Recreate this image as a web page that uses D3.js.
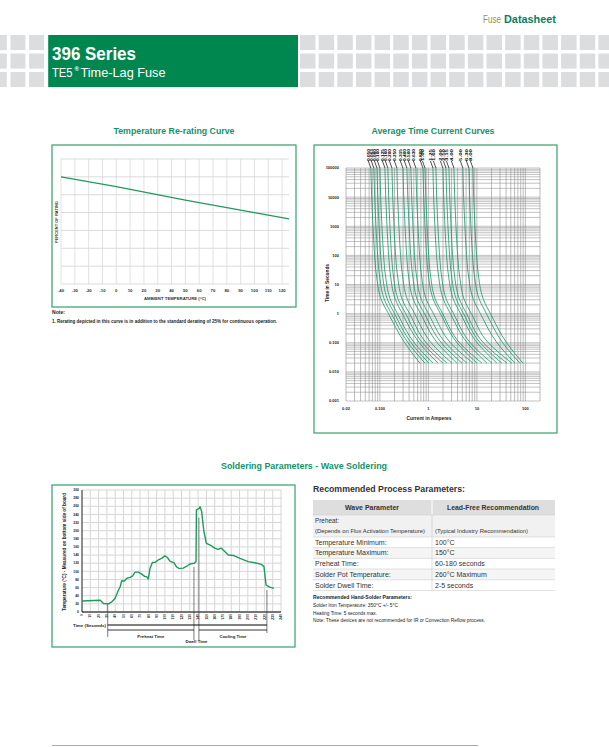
<!DOCTYPE html>
<html lang="en">
<head>
<meta charset="utf-8">
<title>396 Series TE5 Time-Lag Fuse</title>
<script src="https://cdn.jsdelivr.net/npm/d3@7"></script>
<style>
  body { margin: 0; background: #fff; }
  svg { display: block; font-family: "Liberation Sans", Arial, sans-serif; }
</style>
</head>
<body>
<svg id="page" width="609" height="747"></svg>
<script>

// ---- Temperature re-rating curve ----
var rerateTemp = [-40, 0, 50, 100, 125];
var reratePct  = [120, 109, 94, 80, 73];
var rerateTicks = [-40, -30, -20, -10, 0, 10, 20, 30, 40, 50, 60, 70, 80, 90, 100, 110, 120];
var rerateGrid  = [0, 20, 40, 60, 80, 100, 120, 140];

// ---- Average time current curves ----
var tccRatings = ["0.050", "0.063", "0.080", "0.100", "0.125", "0.160", "0.200", "0.250",
                  "0.315", "0.400", "0.500", "0.630", "0.800", "1.00", "1.25", "1.60",
                  "2.00", "2.50", "3.15", "4.00", "5.00", "6.30", "8.00"];
var tccTimes = [100000, 1000, 10, 3, 1, 0.1, 0.02];
var tccCurrents = [
  [0.065, 0.072, 0.090, 0.107, 0.150, 0.325, 0.668],
  [0.075, 0.083, 0.104, 0.124, 0.173, 0.38, 0.847],
  [0.087, 0.096, 0.120, 0.144, 0.20, 0.44, 1.02],
  [0.100, 0.110, 0.138, 0.165, 0.23, 0.51, 1.24],
  [0.127, 0.140, 0.175, 0.21, 0.29, 0.65, 1.57],
  [0.146, 0.161, 0.20, 0.24, 0.34, 0.75, 1.99],
  [0.177, 0.195, 0.244, 0.29, 0.41, 0.90, 2.41],
  [0.224, 0.246, 0.31, 0.37, 0.52, 1.14, 3.05],
  [0.298, 0.33, 0.41, 0.49, 0.69, 1.52, 3.87],
  [0.36, 0.40, 0.50, 0.59, 0.83, 1.85, 4.91],
  [0.435, 0.48, 0.60, 0.72, 1.00, 2.25, 6.22],
  [0.552, 0.61, 0.76, 0.91, 1.27, 2.85, 8.28],
  [0.77, 0.85, 1.06, 1.27, 1.77, 3.9, 10.0],
  [0.85, 0.94, 1.17, 1.40, 1.96, 4.4, 12.7],
  [1.24, 1.36, 1.71, 2.05, 2.85, 6.3, 16.1],
  [1.43, 1.57, 1.97, 2.36, 3.3, 7.3, 20.4],
  [1.99, 2.19, 2.75, 3.3, 4.6, 10.1, 25.8],
  [2.3, 2.53, 3.17, 3.8, 5.3, 11.7, 32.7],
  [2.65, 2.92, 3.66, 4.4, 6.1, 13.6, 41.6],
  [3.36, 3.7, 4.64, 5.5, 7.7, 17.2, 52.7],
  [5.14, 5.65, 7.1, 8.5, 11.8, 26, 60.8],
  [6.84, 7.5, 9.4, 11.3, 15.7, 34, 77],
  [8.28, 9.1, 11.4, 13.7, 19.0, 41, 88.8]
];
var tccYTicks  = [100000, 10000, 1000, 100, 10, 1, 0.1, 0.01, 0.001];
var tccYLabels = ["100000", "10000", "1000", "100", "10", "1", "0.100", "0.010", "0.001"];
var tccXTicks  = [0.02, 0.1, 1, 10, 100];
var tccXLabels = ["0.02", "0.100", "1", "10", "100"];

// ---- Wave soldering profile ----
var solderTime = [0, 22, 26, 32, 36, 40, 44, 46, 48, 51, 54, 58, 61, 64, 68, 72, 76, 78, 80, 82,
                  85, 88, 92, 96, 100, 103, 106, 111, 114, 117, 122, 126, 130, 135.5, 137.5, 138,
                  141.5, 142.3, 144.3, 147, 150, 156, 160, 164, 168, 172.5, 176.5, 182.5, 190.5,
                  200.5, 208.5, 216.5, 219.5, 222, 226.5, 231.5];
var solderTemp = [27, 29, 21, 20, 25, 34, 54, 62, 77, 76, 83, 85, 89, 98, 98, 93, 87, 87, 81, 107,
                  122, 122, 128, 132, 138, 134, 125, 121, 111, 107, 108, 112, 118, 120, 124, 251,
                  255, 259, 247, 198, 169, 163, 157, 154, 157, 148, 140, 139, 132,
                  124, 121, 117, 111, 66, 61, 58];
var solderXTicks = [0, 10, 20, 30, 40, 50, 60, 70, 80, 90, 100, 110, 120, 130, 140, 150, 160,
                    170, 180, 190, 200, 210, 220, 230, 240];
var solderYTicks = [0, 20, 40, 60, 80, 100, 120, 140, 160, 180, 200, 220, 240, 260, 280, 300];
var markTimes    = [31, 135, 141, 223];
var markTopTemps = [20, 111, 232, 54];

// ---- Process table ----
var tableHead = ["Wave Parameter", "Lead-Free Recommendation"];
var tableParams = ["Temperature Minimum:", "Temperature Maximum:", "Preheat Time:",
                   "Solder Pot Temperature:", "Solder Dwell Time:"];
var tableValues = ["100°C", "150°C", "60-180 seconds", "260°C Maximum", "2-5 seconds"];
var handNotes = ["Recommended Hand-Solder Parameters:",
                 "Solder Iron Temperature: 350°C +/- 5°C",
                 "Heating Time: 5 seconds max.",
                 "Note: These devices are not recommended for IR or Convection Reflow process."];
var handNoteWidths = [99, 85, 64, 172];


var svg = d3.select("#page");
var GREEN = "#00874f", FRAME = "#34a06c", TITLE = "#13936a", LINE = "#1f9a5e";

// small helper for text
function label(g, x, y, txt, size, opts) {
  opts = opts || {};
  var t = g.append("text")
    .attr("x", x).attr("y", y)
    .attr("font-size", size)
    .attr("font-weight", opts.weight || "bold")
    .attr("fill", opts.fill || "#222")
    .attr("text-anchor", opts.anchor || "start")
    .text(txt);
  if (opts.len) t.attr("textLength", opts.len).attr("lengthAdjust", "spacingAndGlyphs");
  if (opts.rotate) t.attr("transform", "rotate(-90," + x + "," + y + ")");
  return t;
}

//---------------- header ----------------
var head = svg.append("g");
[35, 53.5, 72].forEach(function(y) {
  for (var x = 29.1; x > -20; x -= 18.65)
    head.append("rect").attr("x", x).attr("y", y).attr("width", 15).attr("height", 15.1).attr("fill", "#dcdddf");
  for (var x2 = 300; x2 < 609; x2 += 18.65)
    head.append("rect").attr("x", x2).attr("y", y).attr("width", 15.5).attr("height", 15.1).attr("fill", "#dcdddf");
});
head.append("rect").attr("x", 48.2).attr("y", 35).attr("width", 249.8).attr("height", 52.1).attr("fill", GREEN);
label(head, 52, 60, "396 Series", 18.5, {fill: "#fff", len: 84});
label(head, 52, 76.5, "TE5", 13, {fill: "#fff", weight: "normal", len: 20.5});
label(head, 74.5, 70.5, "®", 6, {fill: "#fff", len: 4.5});
label(head, 80.5, 76.5, "Time-Lag Fuse", 13, {fill: "#fff", weight: "normal", len: 85});

label(head, 483, 22.5, "Fuse", 10.5, {fill: "#a0903a", weight: "normal", len: 18});
label(head, 504, 22.5, "Datasheet", 10.5, {fill: "#0a7f5a", len: 52});

//---------------- temperature re-rating ----------------
var gT = svg.append("g");
label(gT, 174, 134, "Temperature Re-rating Curve", 8.5, {fill: TITLE, anchor: "middle", len: 121});
gT.append("rect").attr("x", 52).attr("y", 145).attr("width", 244).attr("height", 162)
  .attr("fill", "none").attr("stroke", FRAME).attr("stroke-width", 1.2);

var tx = d3.scaleLinear().domain([-40, 125]).range([61, 289]);
var ty = d3.scaleLinear().domain([0, 140]).range([284, 159]);

gT.selectAll(".tv").data(rerateTicks).enter().append("line")
  .attr("x1", d => tx(d)).attr("x2", d => tx(d)).attr("y1", ty(140)).attr("y2", ty(0))
  .attr("stroke", "#dadada").attr("stroke-width", 0.8);
gT.selectAll(".th").data(rerateGrid).enter().append("line")
  .attr("x1", tx(-40)).attr("x2", tx(125)).attr("y1", d => ty(d)).attr("y2", d => ty(d))
  .attr("stroke", "#d2d2d2").attr("stroke-width", 0.8);
gT.selectAll(".tl").data(rerateTicks).enter().append("text")
  .attr("x", d => tx(d)).attr("y", 292).attr("text-anchor", "middle")
  .attr("font-size", 4.3).attr("font-weight", "bold").attr("fill", "#333")
  .text(d => d);
label(gT, 175, 300, "AMBIENT TEMPERATURE (°C)", 4.3, {anchor: "middle", fill: "#333", len: 62});
label(gT, 58, 222, "PERCENT OF RATING", 4.3, {anchor: "middle", fill: "#333", rotate: true, len: 42});

gT.append("path")
  .datum(rerateTemp.map((t, i) => [t, reratePct[i]]))
  .attr("d", d3.line().x(d => tx(d[0])).y(d => ty(d[1])))
  .attr("fill", "none").attr("stroke", LINE).attr("stroke-width", 1.2);

label(gT, 52, 314, "Note:", 4.8, {fill: "#222", len: 13});
label(gT, 52, 323, "1. Rerating depicted in this curve is in addition to the standard derating of 25% for continuous operation.", 4.8, {fill: "#222", len: 225});

//---------------- time current curves ----------------
var gC = svg.append("g");
label(gC, 433, 134, "Average Time Current Curves", 8.5, {fill: TITLE, anchor: "middle", len: 123});
gC.append("rect").attr("x", 314).attr("y", 145).attr("width", 243).attr("height", 288)
  .attr("fill", "none").attr("stroke", FRAME).attr("stroke-width", 1.2);

var cx = d3.scaleLog().domain([0.02, 200]).range([346, 540]);
var cy = d3.scaleLog().domain([0.001, 100000]).range([401, 168]);

var xGrid = [], yGrid = [];
[0.01, 0.1, 1, 10, 100].forEach(dec => d3.range(1, 10).forEach(k => {
  var v = +(k * dec).toPrecision(3);
  if (v >= 0.02 && v <= 200) xGrid.push(v);
}));
[0.001, 0.01, 0.1, 1, 10, 100, 1000, 10000, 100000].forEach(dec => d3.range(1, 10).forEach(k => {
  var v = k * dec;
  if (v <= 100000) yGrid.push(v);
}));

gC.selectAll(".ch").data(yGrid).enter().append("line")
  .attr("x1", cx(0.02)).attr("x2", cx(200)).attr("y1", d => cy(d)).attr("y2", d => cy(d))
  .attr("stroke", "#b4b4b4").attr("stroke-width", 0.8);
gC.selectAll(".cv").data(xGrid).enter().append("line")
  .attr("x1", d => cx(d)).attr("x2", d => cx(d)).attr("y1", cy(100000)).attr("y2", cy(0.001))
  .attr("stroke", "#8f8f8f").attr("stroke-width", 0.6);

gC.selectAll(".cyl").data(tccYTicks).enter().append("text")
  .attr("x", 339).attr("y", d => cy(d) + 1.4).attr("text-anchor", "end")
  .attr("font-size", 4).attr("font-weight", "bold").attr("fill", "#222")
  .text((d, i) => tccYLabels[i]);
gC.selectAll(".cxl").data(tccXTicks).enter().append("text")
  .attr("x", d => cx(d)).attr("y", 410).attr("text-anchor", "middle")
  .attr("font-size", 4).attr("font-weight", "bold").attr("fill", "#222")
  .text((d, i) => tccXLabels[i]);
label(gC, 429, 419.5, "Current in Amperes", 4.6, {anchor: "middle", len: 45});
label(gC, 329, 283, "Time in Seconds", 4.6, {anchor: "middle", rotate: true, len: 38});

var tccLine = d3.line().x(d => cx(d[0])).y(d => cy(d[1])).curve(d3.curveMonotoneY);
gC.selectAll(".curve").data(tccCurrents).enter().append("path")
  .attr("d", c => tccLine(c.map((a, i) => [a, tccTimes[i]])))
  .attr("fill", "none").attr("stroke", "#16946a").attr("stroke-width", 0.8);

// rating tags at the top of each curve
var tags = gC.selectAll(".tag").data(tccCurrents).enter().append("g");
tags.append("line")
  .attr("x1", c => cx(c[0]) - 2.5).attr("y1", 161)
  .attr("x2", c => cx(c[0])).attr("y2", cy(100000))
  .attr("stroke", "#000").attr("stroke-width", 0.7);
tags.append("text")
  .attr("transform", c => "translate(" + (cx(c[0]) - 1) + ",161) rotate(-90)")
  .attr("font-size", 4.4).attr("font-weight", "bold").attr("fill", "#000")
  .attr("textLength", 12).attr("lengthAdjust", "spacingAndGlyphs")
  .text((c, i) => tccRatings[i]);

//---------------- wave soldering ----------------
var gS = svg.append("g");
label(gS, 304, 469, "Soldering Parameters - Wave Soldering", 8.5, {fill: TITLE, anchor: "middle", len: 166});
gS.append("rect").attr("x", 52).attr("y", 485).attr("width", 243).attr("height", 162)
  .attr("fill", "none").attr("stroke", FRAME).attr("stroke-width", 1.2);

var sx = d3.scaleLinear().domain([0, 240]).range([82, 281]);
var sy = d3.scaleLinear().domain([0, 300]).range([612, 490]);

gS.selectAll(".sv").data(solderXTicks).enter().append("line")
  .attr("x1", d => sx(d)).attr("x2", d => sx(d)).attr("y1", sy(300)).attr("y2", sy(0))
  .attr("stroke", "#d6d6d6").attr("stroke-width", 1);
gS.selectAll(".sh").data(solderYTicks).enter().append("line")
  .attr("x1", sx(0)).attr("x2", sx(240)).attr("y1", d => sy(d)).attr("y2", d => sy(d))
  .attr("stroke", "#d6d6d6").attr("stroke-width", 1);

gS.append("line").attr("x1", sx(0)).attr("x2", sx(0)).attr("y1", sy(300)).attr("y2", sy(0))
  .attr("stroke", "#000").attr("stroke-width", 0.8);
gS.append("line").attr("x1", sx(0)).attr("x2", sx(240)).attr("y1", sy(0)).attr("y2", sy(0))
  .attr("stroke", "#000").attr("stroke-width", 1.2);
gS.selectAll(".syl").data(solderYTicks).enter().append("text")
  .attr("x", 79).attr("y", d => sy(d) + 1.2).attr("text-anchor", "end")
  .attr("font-size", 3.4).attr("font-weight", "bold").attr("fill", "#222").text(d => d);
gS.selectAll(".sxl").data(solderXTicks).enter().append("text")
  .attr("transform", d => "translate(" + (sx(d) + 1.2) + ",614) rotate(-90)")
  .attr("text-anchor", "end")
  .attr("font-size", 3.4).attr("font-weight", "bold").attr("fill", "#222").text(d => d);
label(gS, 66, 552, "Temperature (°C) - Measured on bottom side of board", 4.8, {anchor: "middle", rotate: true, len: 118});

gS.append("path")
  .datum(solderTime.map((t, i) => [t, solderTemp[i]]))
  .attr("d", d3.line().x(d => sx(d[0])).y(d => sy(d[1])))
  .attr("fill", "none").attr("stroke", LINE).attr("stroke-width", 1.4).attr("stroke-linejoin", "round");

// time brackets
var mk = markTimes.map(sx);
var bottoms = [637, 640, 640, 633];
gS.selectAll(".mk").data(markTimes).enter().append("line")
  .attr("x1", d => sx(d)).attr("x2", d => sx(d))
  .attr("y1", (d, i) => sy(markTopTemps[i])).attr("y2", (d, i) => bottoms[i])
  .attr("stroke", "#444").attr("stroke-width", 0.7);
gS.append("line").attr("x1", mk[0]).attr("x2", mk[3]).attr("y1", 625).attr("y2", 625)
  .attr("stroke", "#000").attr("stroke-width", 1);
gS.append("line").attr("x1", mk[0]).attr("x2", mk[1]).attr("y1", 630).attr("y2", 630)
  .attr("stroke", "#000").attr("stroke-width", 0.8);
gS.append("line").attr("x1", mk[2]).attr("x2", mk[3]).attr("y1", 630).attr("y2", 630)
  .attr("stroke", "#000").attr("stroke-width", 0.8);
label(gS, 73, 626.5, "Time (Seconds)", 4.4, {len: 33});
label(gS, (mk[0] + mk[1]) / 2, 637.5, "Preheat Time", 4.4, {anchor: "middle", len: 27});
label(gS, (mk[2] + mk[3]) / 2, 637.5, "Cooling Time", 4.4, {anchor: "middle", len: 27});
label(gS, (mk[1] + mk[2]) / 2, 643, "Dwell Time", 4.4, {anchor: "middle", len: 22});

//---------------- process table ----------------
var gP = svg.append("g");
label(gP, 313, 492, "Recommended Process Parameters:", 9, {fill: "#333", len: 152});
var colL = 313, colM = 432, colR = 555;
var rowY = [537, 547.6, 558.4, 569, 579.8, 590.5];

gP.append("rect").attr("x", colL).attr("y", 500).attr("width", colR - colL).attr("height", 15).attr("fill", "#dedede");
gP.append("rect").attr("x", colL).attr("y", 515).attr("width", colR - colL).attr("height", 22).attr("fill", "#f1f1f1");
[1, 3].forEach(i => gP.append("rect").attr("x", colL).attr("y", rowY[i]).attr("width", colR - colL)
  .attr("height", rowY[i + 1] - rowY[i]).attr("fill", "#f5f5f5"));
gP.append("line").attr("x1", colM).attr("x2", colM).attr("y1", 500).attr("y2", 515).attr("stroke", "#fff").attr("stroke-width", 1);
gP.append("line").attr("x1", colM).attr("x2", colM).attr("y1", 515).attr("y2", rowY[5]).attr("stroke", "#c8c8c8").attr("stroke-width", 0.6);
gP.selectAll(".rl").data([515].concat(rowY)).enter().append("line")
  .attr("x1", colL).attr("x2", colR).attr("y1", d => d).attr("y2", d => d)
  .attr("stroke", "#cfcfcf").attr("stroke-width", 0.6);

label(gP, 372, 510, tableHead[0], 6.8, {anchor: "middle", fill: "#333", len: 54});
label(gP, 493, 510, tableHead[1], 6.8, {anchor: "middle", fill: "#333", len: 92});
label(gP, 315, 523, "Preheat:", 6.8, {weight: "normal", fill: "#333", len: 24});
label(gP, 315, 533, "(Depends on Flux Activation Temperature)", 5.4, {weight: "normal", fill: "#333", len: 110});
label(gP, 435, 533, "(Typical Industry Recommendation)", 5.4, {weight: "normal", fill: "#333", len: 93});
gP.selectAll(".pp").data(tableParams).enter().append("text")
  .attr("x", 315).attr("y", (d, i) => rowY[i] + 7.8)
  .attr("font-size", 7).attr("fill", "#333").text(d => d);
gP.selectAll(".pv").data(tableValues).enter().append("text")
  .attr("x", 435).attr("y", (d, i) => rowY[i] + 7.8)
  .attr("font-size", 7).attr("fill", "#333").text(d => d);

gP.selectAll(".hn").data(handNotes).enter().append("text")
  .attr("x", 313).attr("y", (d, i) => 599 + i * 7.8)
  .attr("font-size", 4.8).attr("font-weight", (d, i) => i === 0 ? "bold" : "normal")
  .attr("fill", "#222")
  .attr("textLength", (d, i) => handNoteWidths[i]).attr("lengthAdjust", "spacingAndGlyphs")
  .text(d => d);

// footer rule
svg.append("line").attr("x1", 52).attr("x2", 478).attr("y1", 745.5).attr("y2", 745.5)
  .attr("stroke", "#aaa").attr("stroke-width", 1);

</script>
</body>
</html>
